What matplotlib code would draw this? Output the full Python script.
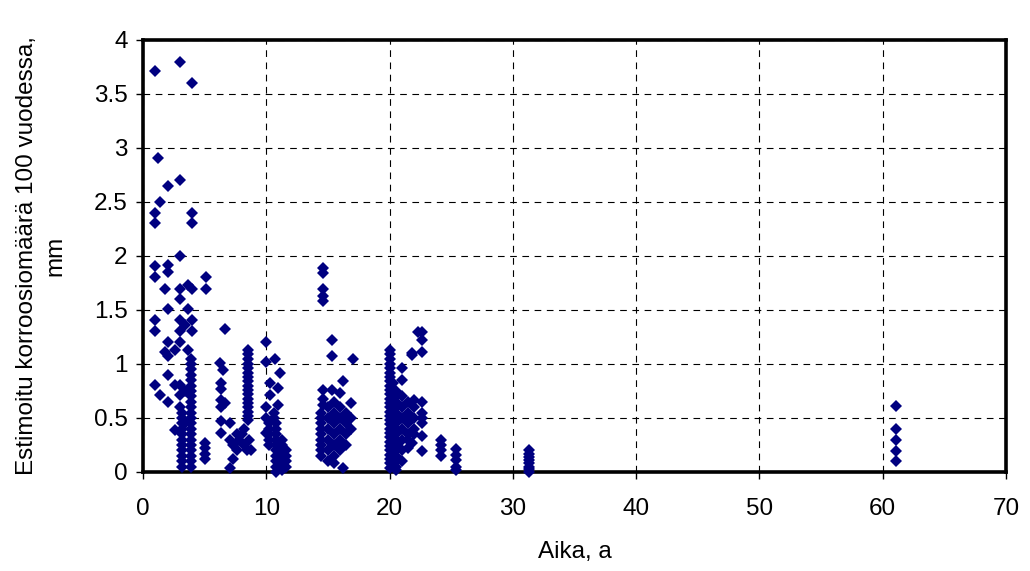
import matplotlib
matplotlib.use("Agg")
import matplotlib.pyplot as plt

plt.rcParams['font.family'] = ['Liberation Sans', 'DejaVu Sans']

# ---- data: each age (Aika, a) with the corrosion values read at that age ----
ika_0_5 = [0.97, 1.24, 1.38, 1.78, 2.05, 2.6, 3.0, 3.2, 3.4, 3.67, 3.9, 3.95, 5.0, 5.08]
arvo_0_5 = [
    [3.71, 2.40, 2.31, 1.91, 1.81, 1.41, 1.31, 0.81],
    [2.91],
    [2.50, 0.71],
    [1.69, 1.11],
    [2.65, 1.92, 1.85, 1.51, 1.20, 1.07, 0.90, 0.65],
    [1.13, 0.81, 0.39],
    [3.80, 2.70, 2.00, 1.69, 1.60, 1.41, 1.31, 1.20, 0.81, 0.71, 0.60],
    [0.55, 0.50, 0.45, 0.40, 0.35, 0.30, 0.25, 0.20, 0.15, 0.10, 0.05],
    [1.36, 0.75, 0.45],
    [1.73, 1.51, 1.13],
    [1.05, 1.00, 0.95, 0.90, 0.85, 0.80, 0.75, 0.70, 0.65, 0.60, 0.55, 0.50,
     0.45, 0.40, 0.35, 0.30, 0.25, 0.20, 0.15, 0.10, 0.05],
    [3.60, 2.40, 2.31, 1.69, 1.41, 1.31],
    [0.27, 0.22, 0.17, 0.12],
    [1.81, 1.69],
]

ika_6_12 = [6.24, 6.3, 6.5, 6.65, 7.05, 7.3, 7.6, 7.8, 8.0, 8.2, 8.4, 8.53, 8.6, 8.8,
            10.0, 10.2, 10.3, 10.6, 10.7, 10.8, 10.95, 11.1, 11.3, 11.6]
arvo_6_12 = [
    [1.01],
    [0.82, 0.77, 0.67, 0.60, 0.47, 0.36],
    [0.94],
    [1.32, 0.64],
    [0.45, 0.30, 0.04],
    [0.25, 0.12],
    [0.35, 0.20],
    [0.30],
    [0.35],
    [0.40, 0.25],
    [0.20],
    [1.13, 1.09, 1.05, 1.00, 0.96, 0.92, 0.88, 0.84, 0.80, 0.76, 0.72, 0.68,
     0.64, 0.60, 0.56, 0.52, 0.48],
    [0.30],
    [0.20],
    [1.20, 1.02, 0.60, 0.50, 0.36],
    [0.45, 0.40, 0.35, 0.30, 0.25],
    [0.82, 0.71],
    [0.55, 0.50],
    [1.05],
    [0.45, 0.40, 0.35, 0.30, 0.25, 0.20, 0.15, 0.10, 0.05, 0.00],
    [0.78, 0.62],
    [0.92],
    [0.30, 0.25, 0.20, 0.15, 0.10, 0.05, 0.02],
    [0.20, 0.15, 0.10, 0.05],
]

ika_14_17 = [14.4, 14.6, 15.0, 15.35, 15.5, 16.0, 16.2, 16.5, 16.9, 17.0]
arvo_14_17 = [
    [0.55, 0.50, 0.45, 0.40, 0.35, 0.30, 0.25, 0.20, 0.15],
    [1.89, 1.84, 1.69, 1.63, 1.58, 0.76, 0.68, 0.62],
    [0.60, 0.50, 0.40, 0.30, 0.20, 0.10],
    [1.22, 1.07, 0.76],
    [0.65, 0.55, 0.45, 0.35, 0.25, 0.15, 0.08],
    [0.73, 0.60, 0.50, 0.40, 0.30, 0.20],
    [0.84, 0.04],
    [0.55, 0.45, 0.35, 0.25],
    [0.64, 0.50, 0.40],
    [1.05],
]

ika_20_25 = [20.0, 20.3, 20.5, 21.0, 21.5, 21.8, 22.0, 22.3, 22.6, 24.2, 25.4]
arvo_20_25 = [
    [1.13, 1.09, 1.05, 1.00, 0.96, 0.92, 0.88, 0.84, 0.80, 0.76, 0.72, 0.68,
     0.64, 0.60, 0.56, 0.52, 0.48, 0.44, 0.40, 0.36, 0.32, 0.28, 0.24, 0.20,
     0.16, 0.12, 0.08, 0.04],
    [0.82],
    [0.75, 0.70, 0.65, 0.60, 0.55, 0.50, 0.45, 0.40, 0.35, 0.30, 0.25, 0.20,
     0.15, 0.10, 0.05, 0.02],
    [0.96, 0.85, 0.70, 0.60, 0.50, 0.40, 0.30, 0.20, 0.10],
    [0.65, 0.55, 0.45, 0.35, 0.30, 0.22],
    [1.08, 1.10, 0.27],
    [0.67, 0.60, 0.50, 0.40, 0.35],
    [1.30],
    [1.30, 1.22, 1.11, 0.65, 0.55, 0.50, 0.45, 0.33, 0.19],
    [0.30, 0.25, 0.20, 0.15],
    [0.21, 0.16, 0.11, 0.05, 0.02],
]

ika_31 = [31.3]
arvo_31 = [[0.20, 0.17, 0.14, 0.11, 0.08, 0.05, 0.03, 0.00]]

ika_61 = [61.1]
arvo_61 = [[0.61, 0.40, 0.30, 0.19, 0.10]]

x_ticks = [0, 10, 20, 30, 40, 50, 60, 70]
y_ticks = [0, 0.5, 1, 1.5, 2, 2.5, 3, 3.5, 4]
y_ticklabels = ['0', '0.5', '1', '1.5', '2', '2.5', '3', '3.5', '4']

# ---- flatten ----
xs, ys = [], []
for ages, vals in [(ika_0_5, arvo_0_5), (ika_6_12, arvo_6_12), (ika_14_17, arvo_14_17),
                   (ika_20_25, arvo_20_25), (ika_31, arvo_31), (ika_61, arvo_61)]:
    for a, col in zip(ages, vals):
        for v in col:
            xs.append(a)
            ys.append(v)

fig = plt.figure(figsize=(10.30, 5.71), dpi=100)
ax = fig.add_axes([143 / 1030, 1 - 472 / 571, (1006 - 143) / 1030, (472 - 40) / 571])

ax.plot(xs, ys, linestyle='none', marker='D', markersize=6.6,
        color='#000080', markeredgewidth=0, zorder=3, clip_on=False)

ax.set_xlim(0, 70)
ax.set_ylim(0, 4)
ax.set_xticks(x_ticks)
ax.set_yticks(y_ticks)
ax.set_yticklabels(y_ticklabels)

ax.grid(True, color='black', linestyle=(0, (6, 5)), linewidth=0.8)
ax.set_axisbelow(True)

for s in ax.spines.values():
    s.set_linewidth(2.6)
    s.set_color('black')

ax.tick_params(axis='both', direction='out', length=5, width=1, labelsize=17.5, pad=6, color='black')
ax.tick_params(axis='x', pad=14)

ax.set_xlabel('Aika, a', fontsize=17.5, labelpad=15)
ax.set_ylabel('Estimoitu korroosiomäärä 100 vuodessa,\nmm', fontsize=17.5, labelpad=20,
              linespacing=1.35)

fig.savefig('out.png', dpi=100, facecolor='white')
